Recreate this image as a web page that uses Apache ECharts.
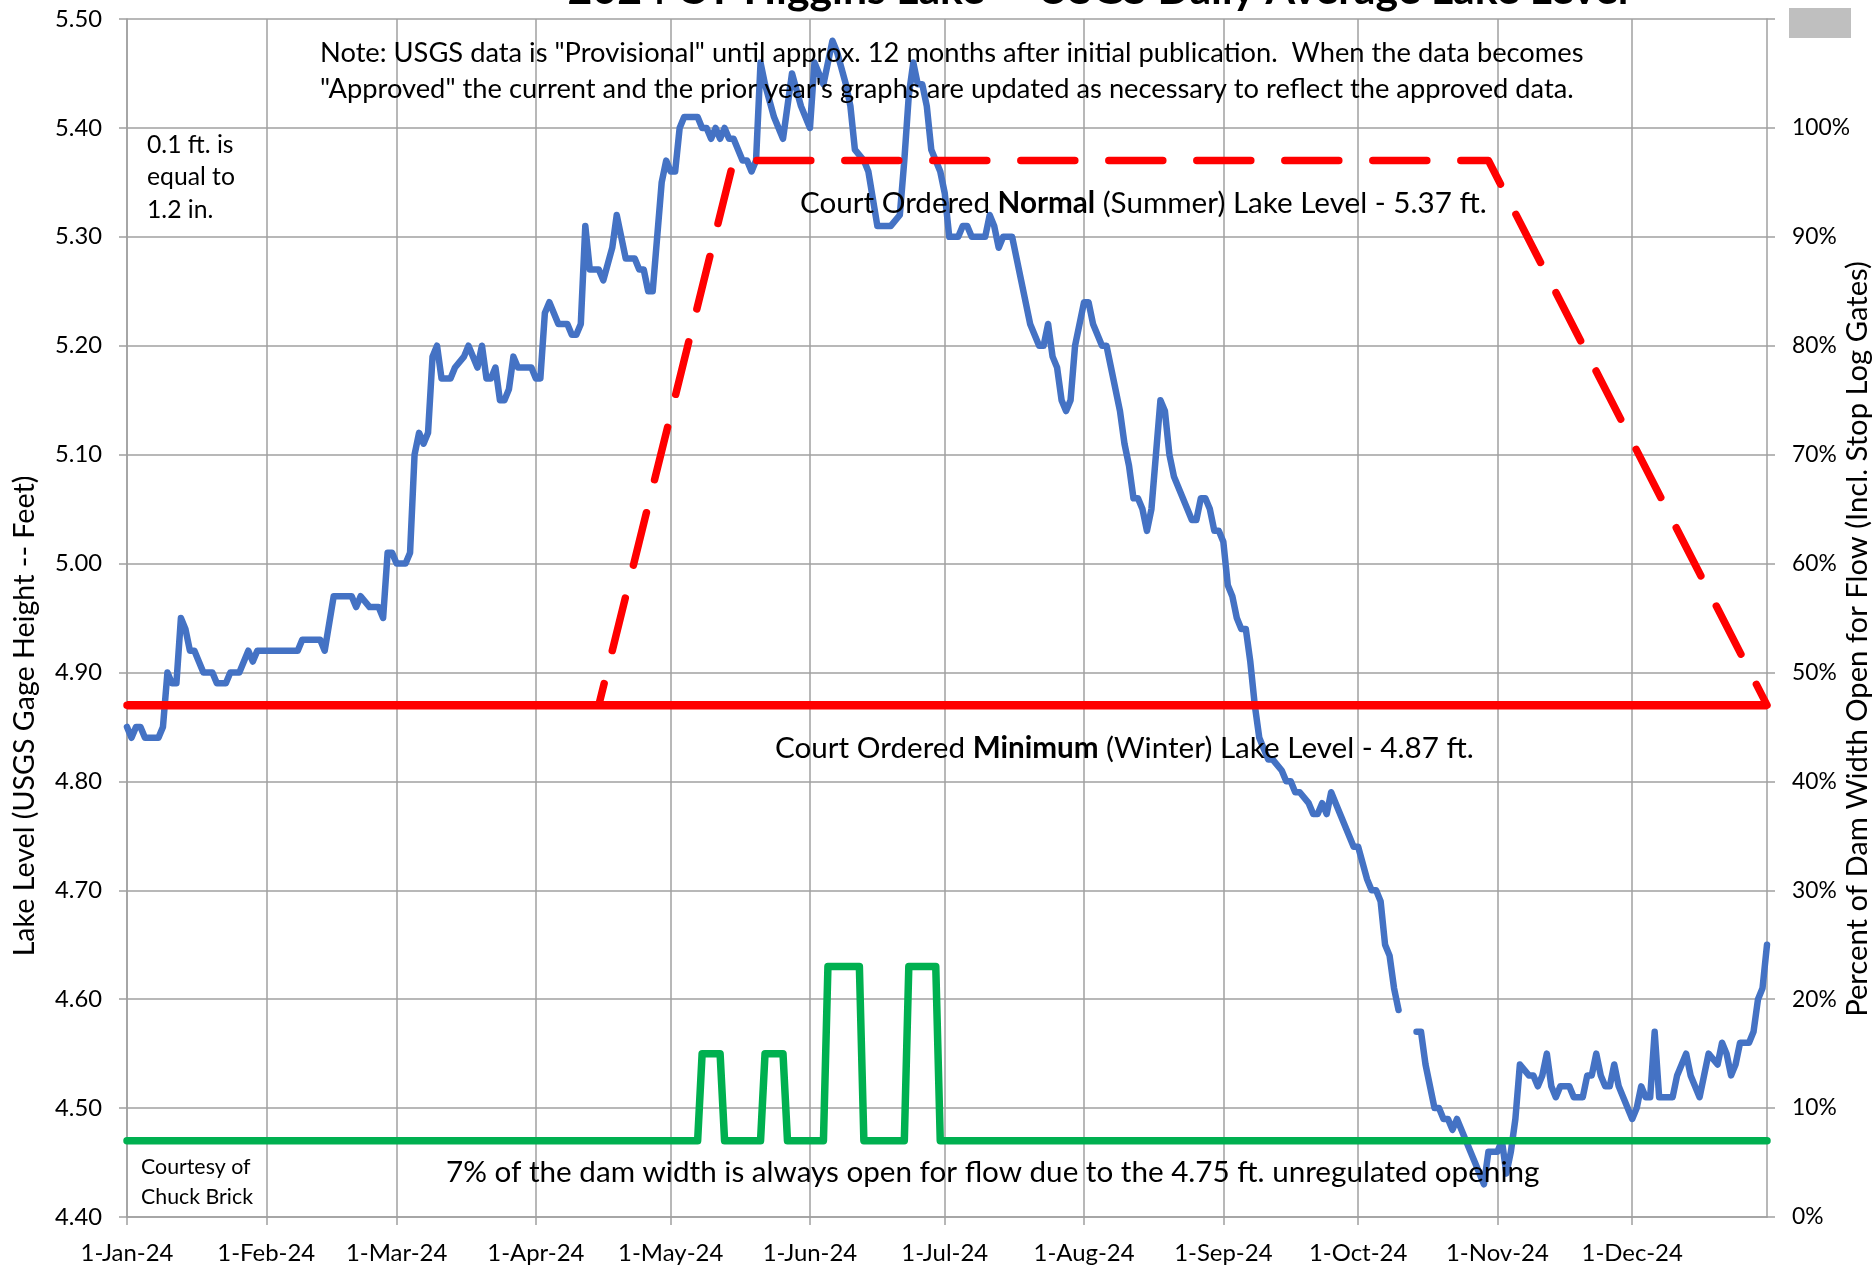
<!DOCTYPE html>
<html><head><meta charset="utf-8">
<script src="https://cdn.jsdelivr.net/npm/echarts@6/dist/echarts.min.js"></script>
<style>html,body{margin:0;padding:0;background:#fff}#c{width:1875px;height:1265px}</style>
</head><body><div id="c"></div>
<script>
// ---- x axis: day of year 2024 (0 = 1-Jan-24) ----
const monthDays = [0,31,60,91,121,152,182,213,244,274,305,335];
const monthLabels = ['1-Jan-24','1-Feb-24','1-Mar-24','1-Apr-24','1-May-24','1-Jun-24','1-Jul-24','1-Aug-24','1-Sep-24','1-Oct-24','1-Nov-24','1-Dec-24'];

// ---- USGS daily average lake level (ft) ----
const blueDays = [0,1,2,3,4,7,8,9,10,11,12,13,14,15,17,19,20,22,23,25,27,28,29,38,39,43,44,46,50,51,52,54,56,57,58,59,60,62,63,64,65,66,67,68,69,70,72,73,75,76,78,79,80,81,82,83,84,85,86,87,90,91,92,93,94,96,98,99,100,101,102,103,105,106,108,109,110,111,113,114,115,116,117,119,120,121,122,123,124,127,128,129,130,131,132,133,134,135,137,138,139,140,141,142,144,146,148,150,152,153,154,155,156,157,158,160,161,162,164,165,167,170,172,173,174,175,176,177,178,179,181,182,183,185,186,187,188,191,192,193,194,195,197,198,199,201,203,204,205,206,207,208,209,210,211,213,214,215,217,218,219,221,222,223,224,225,226,227,228,229,230,231,232,233,235,237,238,239,240,241,242,243,244,245,246,247,248,249,250,251,252,253,254,255,257,258,259,260,261,263,264,265,266,267,268,269,271,273,274,276,277,278,279,280,281,282,283,285,287,288,289,291,292,293,294,295,296,298,300,302,303,305,306,307,308,309,310,312,313,314,315,316,317,318,319,321,322,324,325,326,327,328,329,330,331,332,333,335,336,337,338,339,340,341,344,345,347,348,350,351,352,354,355,356,357,358,359,361,362,363,364,365];
const blueLevels = [4.85,4.84,4.85,4.85,4.84,4.84,4.85,4.90,4.89,4.89,4.95,4.94,4.92,4.92,4.90,4.90,4.89,4.89,4.90,4.90,4.92,4.91,4.92,4.92,4.93,4.93,4.92,4.97,4.97,4.96,4.97,4.96,4.96,4.95,5.01,5.01,5.00,5.00,5.01,5.10,5.12,5.11,5.12,5.19,5.20,5.17,5.17,5.18,5.19,5.20,5.18,5.20,5.17,5.17,5.18,5.15,5.15,5.16,5.19,5.18,5.18,5.17,5.17,5.23,5.24,5.22,5.22,5.21,5.21,5.22,5.31,5.27,5.27,5.26,5.29,5.32,5.30,5.28,5.28,5.27,5.27,5.25,5.25,5.35,5.37,5.36,5.36,5.40,5.41,5.41,5.40,5.40,5.39,5.40,5.39,5.40,5.39,5.39,5.37,5.37,5.36,5.37,5.46,5.44,5.41,5.39,5.45,5.42,5.40,5.46,5.45,5.44,5.46,5.48,5.47,5.44,5.42,5.38,5.37,5.36,5.31,5.31,5.32,5.37,5.43,5.46,5.44,5.44,5.42,5.38,5.36,5.34,5.30,5.30,5.31,5.31,5.30,5.30,5.32,5.31,5.29,5.30,5.30,5.28,5.26,5.22,5.20,5.20,5.22,5.19,5.18,5.15,5.14,5.15,5.20,5.24,5.24,5.22,5.20,5.20,5.18,5.14,5.11,5.09,5.06,5.06,5.05,5.03,5.05,5.10,5.15,5.14,5.10,5.08,5.06,5.04,5.04,5.06,5.06,5.05,5.03,5.03,5.02,4.98,4.97,4.95,4.94,4.94,4.91,4.87,4.84,4.83,4.82,4.82,4.81,4.80,4.80,4.79,4.79,4.78,4.77,4.77,4.78,4.77,4.79,4.78,4.76,4.74,4.74,4.71,4.70,4.70,4.69,4.65,4.64,4.61,4.59,null,4.57,4.57,4.54,4.50,4.50,4.49,4.49,4.48,4.49,4.47,4.45,4.43,4.46,4.46,4.47,4.44,4.46,4.49,4.54,4.53,4.53,4.52,4.53,4.55,4.52,4.51,4.52,4.52,4.51,4.51,4.53,4.53,4.55,4.53,4.52,4.52,4.54,4.52,4.51,4.49,4.50,4.52,4.51,4.51,4.57,4.51,4.51,4.53,4.55,4.53,4.51,4.53,4.55,4.54,4.56,4.55,4.53,4.54,4.56,4.56,4.57,4.60,4.61,4.65];

// ---- court ordered levels (ft) ----
const minimumDays = [0,365];
const minimumLevels = [4.87,4.87];
const targetDays = [0,105,135,303,365];
const targetLevels = [4.87,4.87,5.37,5.37,4.87];

// ---- percent of dam width open ----
const gateDays = [0,127,128,132,133,141,142,146,147,155,156,163,164,173,174,180,181,365];
const gatePct  = [7,7,15,15,7,7,15,15,7,7,23,23,7,7,23,23,7,7];

const FONT = 'Lato';
const mctx = document.createElement('canvas').getContext('2d');
function fit(parts, target) {
  let w = 0;
  for (const [t, wt] of parts) { mctx.font = wt + ' 100px ' + FONT; w += mctx.measureText(t).width; }
  return 100 * target / w;
}
const pairs = (xs, ys) => xs.map((x, i) => [x, ys[i] === null ? '-' : ys[i]]);

const GRID = '#A0A0A0';
const yLabSize = fit([['5.50', 'normal']], 47);
const rLabSize = fit([['100%', 'normal']], 58);
const xLabSize = fit([['1-Jan-24', 'normal']], 93);

const note1 = 'Note: USGS data is "Provisional" until approx. 12 months after initial publication.  When the data becomes';
const note2 = '"Approved" the current and the prior year\'s graphs are updated as necessary to reflect the approved data.';
const noteSize = fit([[note1, 'normal']], 1264);
const titleText = '2024 CY Higgins Lake -- USGS Daily Average Lake Level';
const titleSize = fit([[titleText, 'bold']], 1061);
const normSize = fit([['Court Ordered ', 'normal'], ['Normal', 'bold'], [' (Summer) Lake Level - 5.37 ft.', 'normal']], 687);
const minSize = fit([['Court Ordered ', 'normal'], ['Minimum', 'bold'], [' (Winter) Lake Level - 4.87 ft.', 'normal']], 699);
const damText = '7% of the dam width is always open for flow due to the 4.75 ft. unregulated opening';
const damSize = fit([[damText, 'normal']], 1094);
const eqSize = fit([['equal to', 'normal']], 88);
const cbSize = fit([['Chuck Brick', 'normal']], 112);
const lAxisText = 'Lake Level (USGS Gage Height -- Feet)';
const lAxisSize = fit([[lAxisText, 'normal']], 481);
const rAxisText = 'Percent of Dam Width Open for Flow (Incl. Stop Log Gates)';
const rAxisSize = fit([[rAxisText, 'normal']], 756);

function txt(text, x, y, size, extra) {
  return Object.assign({
    type: 'text', z: 100,
    style: { text: text, x: x, y: y, fill: '#000', fontSize: size, fontFamily: FONT,
             textAlign: 'left', textVerticalAlign: 'middle' }
  }, extra || {});
}
function richTxt(a, b, c, x, y, size) {
  return {
    type: 'text', z: 100,
    style: {
      text: '{n|' + a + '}{b|' + b + '}{n|' + c + '}', x: x, y: y,
      textAlign: 'left', textVerticalAlign: 'middle', fill: '#000', fontSize: size, fontFamily: FONT,
      rich: {
        n: { fontSize: size, fontFamily: FONT, fill: '#000' },
        b: { fontSize: size, fontFamily: FONT, fontWeight: 'bold', fill: '#000' }
      }
    }
  };
}

const chart = echarts.init(document.getElementById('c'), null, { renderer: 'canvas' });
chart.setOption({
  animation: false,
  backgroundColor: '#fff',
  grid: { left: 127, right: 108, top: 19, bottom: 46.5, containLabel: false },
  xAxis: {
    type: 'value', min: 0, max: 365,
    axisLine: { show: true, lineStyle: { color: GRID, width: 1.5 } },
    axisTick: { show: true, length: 8, lineStyle: { color: GRID, width: 1.5 }, customValues: monthDays },
    axisLabel: { customValues: monthDays, margin: 24, color: '#000', fontSize: xLabSize, fontFamily: FONT,
      formatter: v => monthLabels[monthDays.indexOf(Math.round(v))] || '' },
    splitLine: { show: true, lineStyle: { color: GRID, width: 1.5 } }
  },
  yAxis: [{
    type: 'value', min: 4.4, max: 5.5, interval: 0.1, position: 'left',
    axisLine: { show: true, lineStyle: { color: GRID, width: 1.5 } },
    axisTick: { show: true, length: 8, lineStyle: { color: GRID, width: 1.5 } },
    axisLabel: { margin: 25, color: '#000', fontSize: yLabSize, fontFamily: FONT, formatter: v => v.toFixed(2) },
    splitLine: { show: true, lineStyle: { color: GRID, width: 1.5 } }
  }, {
    type: 'value', min: 0, max: 110, interval: 10, position: 'right',
    axisLine: { show: true, lineStyle: { color: GRID, width: 1.5 } },
    axisTick: { show: true, length: 8, lineStyle: { color: GRID, width: 1.5 } },
    axisLabel: { margin: 25, color: '#000', fontSize: rLabSize, fontFamily: FONT,
      formatter: v => (Math.round(v) >= 110 ? '' : Math.round(v) + '%') },
    splitLine: { show: false }
  }],
  series: [
    { name: 'Lake Level', type: 'line', yAxisIndex: 0, z: 2, symbol: 'none', connectNulls: false,
      data: pairs(blueDays, blueLevels),
      lineStyle: { color: '#4472C4', width: 6.5, cap: 'round', join: 'round' } },
    { name: 'Minimum', type: 'line', yAxisIndex: 0, z: 3, symbol: 'none',
      data: pairs(minimumDays, minimumLevels),
      lineStyle: { color: '#FF0000', width: 8.5, cap: 'butt' } },
    { name: 'Target', type: 'line', yAxisIndex: 0, z: 4, symbol: 'none',
      data: pairs(targetDays, targetLevels),
      lineStyle: { color: '#FF0000', width: 7.5, type: [54, 34], cap: 'round', join: 'round' } },
    { name: 'Dam Opening', type: 'line', yAxisIndex: 1, z: 5, symbol: 'none',
      data: pairs(gateDays, gatePct),
      lineStyle: { color: '#00B050', width: 7.5, cap: 'round', join: 'round' } }
  ],
  graphic: [
    { type: 'text', z: 100, style: { text: titleText, x: 1098, y: 3 - 0.305 * titleSize, fill: '#000',
      fontSize: titleSize, fontWeight: 'bold', fontFamily: FONT, textAlign: 'center', textVerticalAlign: 'middle' } },
    { type: 'rect', z: 100, shape: { x: 1789, y: 8, width: 62, height: 30 }, style: { fill: '#BFBFBF' } },
    txt(note1, 320, 53.5, noteSize),
    txt(note2, 320, 89, noteSize),
    txt('0.1 ft. is', 147, 145, eqSize),
    txt('equal to', 147, 177, eqSize),
    txt('1.2 in.', 147, 210, eqSize),
    richTxt('Court Ordered ', 'Normal', ' (Summer) Lake Level - 5.37 ft.', 800, 203, normSize),
    richTxt('Court Ordered ', 'Minimum', ' (Winter) Lake Level - 4.87 ft.', 775, 748, minSize),
    txt(damText, 446, 1172, damSize),
    txt('Courtesy of', 141, 1167, cbSize),
    txt('Chuck Brick', 141, 1197, cbSize),
    { type: 'text', z: 100, x: 25, y: 716, rotation: Math.PI / 2,
      style: { text: lAxisText, x: 0, y: 0, fill: '#000', fontSize: lAxisSize, fontFamily: FONT, textAlign: 'center', textVerticalAlign: 'middle' } },
    { type: 'text', z: 100, x: 1858, y: 639, rotation: Math.PI / 2,
      style: { text: rAxisText, x: 0, y: 0, fill: '#000', fontSize: rAxisSize, fontFamily: FONT, textAlign: 'center', textVerticalAlign: 'middle' } }
  ]
});
</script>
</body></html>
